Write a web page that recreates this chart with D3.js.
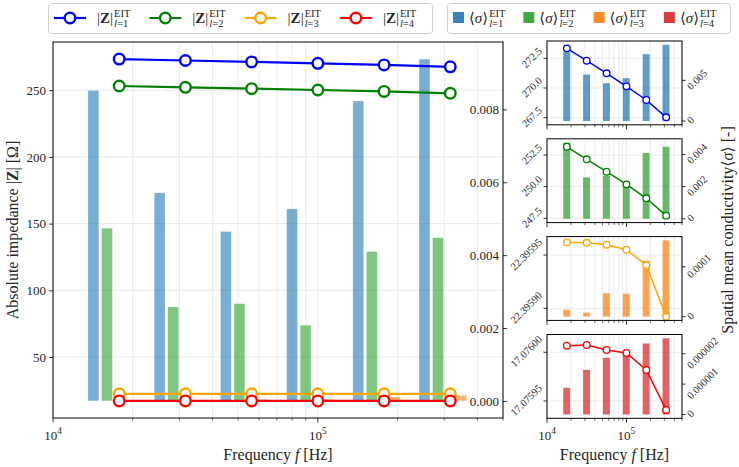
<!DOCTYPE html>
<html><head><meta charset="utf-8">
<script src="https://cdn.jsdelivr.net/npm/d3@7"></script>
<style>
body{margin:0;background:#fff}
svg{display:block}
text{font-family:"Liberation Serif","DejaVu Serif",serif;fill:#262626}
</style>
</head><body><svg id="c" width="739" height="467"></svg>
<script>
// ---------------- data ----------------
const freqs = [17783, 31623, 56234, 100000, 177828, 316228];
const zL1 = [273.34, 272.30, 271.24, 270.14, 268.99, 267.53];
const zL2 = [253.15, 252.16, 251.18, 250.18, 249.08, 247.71];
const zL3 = [22.3959619, 22.3959615, 22.3959597, 22.3959550, 22.3959406, 22.3958921];
const zL4 = [17.0760068, 17.0760075, 17.0760024, 17.0759993, 17.0759818, 17.0759408];
const sL1 = [0.00852, 0.00571, 0.00465, 0.00527, 0.00823, 0.00938];
const sL2 = [0.00474, 0.00258, 0.00267, 0.00208, 0.00410, 0.00448];
const sL3 = [0.0000139, 0.0000077, 0.000047, 0.000046, 0.000112, 0.000153];
const sL4 = [0.00000088, 0.00000147, 0.00000187, 0.00000208, 0.00000234, 0.00000251];
const layers = ["1", "2", "3", "4"];
const lineColors = ["#0000ff", "#008000", "#ffa500", "#ff0000"];
const barColors = ["#1f77b4", "#2ca02c", "#ff7f0e", "#d62728"];
const barOffsets = [0.8, 0.9, 1.1, 1.2];
const zTicksMain = [50, 100, 150, 200, 250];
const sTicksMain = [0, 0.002, 0.004, 0.006, 0.008];
const sTickLabelsMain = ["0.000", "0.002", "0.004", "0.006", "0.008"];
const xMajorTicks = [1e4, 1e5];
const xMajorExp = ["4", "5"];
const panelZTicks = [[267.5, 270.0, 272.5], [247.5, 250.0, 252.5], [22.39590, 22.39595], [17.07595, 17.07600]];
const panelZTickLabels = [["267.5", "270.0", "272.5"], ["247.5", "250.0", "252.5"], ["22.39590", "22.39595"], ["17.07595", "17.07600"]];
const panelSTicks = [[0, 0.005], [0, 0.002, 0.004], [0, 0.0001], [0, 0.000001, 0.000002]];
const panelSTickLabels = [["0", "0.005"], ["0", "0.002", "0.004"], ["0", "0.0001"], ["0", "0.000001", "0.000002"]];
const panelZDomains = [[266.90, 273.96], [247.16, 253.78], [22.3958887, 22.3959673], [17.0759322, 17.0760183]];

const zSeries = [zL1, zL2, zL3, zL4];
const sSeries = [sL1, sL2, sL3, sL4];

const svg = d3.select("#c");
const GRID = "#e3e3e3";

// ---------------- main chart ----------------
const M = {l: 53, r: 503, t: 42, b: 418};
const xMain = d3.scaleLog().domain([1e4, 5e5]).range([M.l, M.r]);
const allZ = [].concat(...zSeries);
const [zmin, zmax] = d3.extent(allZ);
const zpad = (zmax - zmin) * 0.05;
const yZ = d3.scaleLinear().domain([zmin - zpad, zmax + zpad]).range([M.b, M.t]);
const sMax = d3.max([].concat(...sSeries));
const yS = d3.scaleLinear().domain([-0.05 * sMax, 1.05 * sMax]).range([M.b, M.t]);

const gm = svg.append("g");
const xtAll = xMain.ticks();
gm.selectAll(".vg").data(xtAll).join("line")
  .attr("x1", d => xMain(d)).attr("x2", d => xMain(d)).attr("y1", M.t).attr("y2", M.b)
  .attr("stroke", GRID).attr("stroke-width", 0.8);
gm.selectAll(".hg").data(zTicksMain).join("line")
  .attr("x1", M.l).attr("x2", M.r).attr("y1", d => yZ(d)).attr("y2", d => yZ(d))
  .attr("stroke", GRID).attr("stroke-width", 0.8);

// bars
sSeries.forEach((ss, i) => {
  gm.append("g").selectAll("rect").data(ss.map((v, j) => ({v, f: freqs[j]}))).join("rect")
    .attr("x", d => xMain(d.f * barOffsets[i] * (1 - 0.0475)))
    .attr("width", d => xMain(d.f * barOffsets[i] * (1 + 0.0475)) - xMain(d.f * barOffsets[i] * (1 - 0.0475)))
    .attr("y", d => yS(d.v))
    .attr("height", d => yS(0) - yS(d.v))
    .attr("fill", barColors[i]).attr("fill-opacity", 0.6)
    .attr("stroke", "#fff").attr("stroke-opacity", 0.5).attr("stroke-width", 0.6);
});

// lines
const lineMain = d3.line().x((d, j) => xMain(freqs[j])).y(d => yZ(d));
zSeries.forEach((zs, i) => {
  gm.append("path").datum(zs).attr("d", lineMain).attr("fill", "none")
    .attr("stroke", lineColors[i]).attr("stroke-width", 2.2);
  gm.append("g").selectAll("circle").data(zs).join("circle")
    .attr("cx", (d, j) => xMain(freqs[j])).attr("cy", d => yZ(d)).attr("r", 5.3)
    .attr("fill", "#fff").attr("stroke", lineColors[i]).attr("stroke-width", 2.4);
});

// spines
gm.append("rect").attr("x", M.l).attr("y", M.t).attr("width", M.r - M.l).attr("height", M.b - M.t)
  .attr("fill", "none").attr("stroke", "#000").attr("stroke-width", 1);

// axes
function styleAxis(g) {
  g.select(".domain").remove();
  g.selectAll(".tick line").attr("stroke", "#000").attr("stroke-width", 0.8);
  g.selectAll(".tick text").style("font-size", "13px").attr("fill", "#262626");
}
const axL = svg.append("g").attr("transform", `translate(${M.l},0)`)
  .call(d3.axisLeft(yZ).tickValues(zTicksMain).tickSize(4).tickPadding(3).tickFormat(d3.format("d")));
styleAxis(axL);
const axR = svg.append("g").attr("transform", `translate(${M.r},0)`)
  .call(d3.axisRight(yS).tickValues(sTicksMain).tickSize(4).tickFormat((d, i) => sTickLabelsMain[i]));
styleAxis(axR);
axR.selectAll(".tick text").attr("text-anchor", "end").attr("x", -4);

function logXAxis(scale, y, withLabels) {
  const g = svg.append("g");
  const ticks = scale.ticks();
  g.selectAll("line").data(ticks).join("line")
    .attr("x1", d => scale(d)).attr("x2", d => scale(d)).attr("y1", y)
    .attr("y2", d => y + (xMajorTicks.includes(d) ? 4.5 : 2.5))
    .attr("stroke", "#000").attr("stroke-width", d => xMajorTicks.includes(d) ? 0.8 : 0.6);
  if (withLabels) {
    xMajorTicks.forEach((t, k) => {
      const tx = g.append("text").attr("x", scale(t)).attr("y", y + 22).attr("text-anchor", "middle").style("font-size", "13px");
      tx.append("tspan").text("10");
      tx.append("tspan").attr("dy", -6).style("font-size", "9.5px").text(xMajorExp[k]);
    });
  }
}
logXAxis(xMain, M.b, true);

// axis labels
function freqLabel(cx) {
  const t = svg.append("text").attr("x", cx).attr("y", 460).attr("text-anchor", "middle").style("font-size", "16px");
  t.append("tspan").text("Frequency ");
  t.append("tspan").style("font-style", "italic").text("f");
  t.append("tspan").text(" [Hz]");
}
freqLabel((M.l + M.r) / 2);

const yl = svg.append("text").attr("transform", `translate(18,${(M.t + M.b) / 2}) rotate(-90)`)
  .attr("text-anchor", "middle").style("font-size", "16px");
yl.append("tspan").text("Absolute impedance |");
yl.append("tspan").style("font-weight", "bold").text("Z");
yl.append("tspan").text("| [Ω]");

const yr = svg.append("text").attr("transform", `translate(733,${(M.t + M.b) / 2}) rotate(-90)`)
  .attr("text-anchor", "middle").style("font-size", "16px");
yr.append("tspan").text("Spatial mean conductivity⟨");
yr.append("tspan").style("font-style", "italic").text("σ");
yr.append("tspan").text("⟩ [-]");

// ---------------- right panels ----------------
const PX = {l: 547, r: 682};
const pTops = [41, 138.8, 236.6, 334.5];
const pH = 83.8;
const xP = d3.scaleLog().domain([1e4, 5e5]).range([PX.l, PX.r]);

function rotLeft(g, x, y, txt) {
  const t = g.append("text").style("font-size", "10.5px").attr("text-anchor", "end")
    .attr("dominant-baseline", "middle").text(txt);
  const L = t.node().getComputedTextLength();
  t.attr("transform", `translate(${x},${y - L * 0.3536}) rotate(-45)`);
}
function rotRight(g, x, y, txt) {
  const t = g.append("text").style("font-size", "10.5px").attr("text-anchor", "start")
    .attr("dominant-baseline", "middle").text(txt);
  const L = t.node().getComputedTextLength();
  t.attr("transform", `translate(${x},${y + L * 0.3536}) rotate(-45)`);
}

zSeries.forEach((zs, i) => {
  const top = pTops[i], bot = top + pH;
  const yz = d3.scaleLinear().domain(panelZDomains[i]).range([bot, top]);
  const m = d3.max(sSeries[i]);
  const ys = d3.scaleLinear().domain([-0.05 * m, 1.05 * m]).range([bot, top]);
  const g = svg.append("g");
  g.selectAll(".vg").data(xP.ticks()).join("line")
    .attr("x1", d => xP(d)).attr("x2", d => xP(d)).attr("y1", top).attr("y2", bot)
    .attr("stroke", GRID).attr("stroke-width", 0.7);
  g.selectAll(".hg").data(panelZTicks[i]).join("line")
    .attr("x1", PX.l).attr("x2", PX.r).attr("y1", d => yz(d)).attr("y2", d => yz(d))
    .attr("stroke", GRID).attr("stroke-width", 0.7);
  g.append("g").selectAll("rect").data(sSeries[i].map((v, j) => ({v, f: freqs[j]}))).join("rect")
    .attr("x", d => xP(d.f * 0.9)).attr("width", d => xP(d.f * 1.1) - xP(d.f * 0.9))
    .attr("y", d => ys(d.v)).attr("height", d => ys(0) - ys(d.v))
    .attr("fill", barColors[i]).attr("fill-opacity", 0.72);
  const ln = d3.line().x((d, j) => xP(freqs[j])).y(d => yz(d));
  g.append("path").datum(zs).attr("d", ln).attr("fill", "none").attr("stroke", lineColors[i]).attr("stroke-width", 1.5);
  g.append("g").selectAll("circle").data(zs).join("circle")
    .attr("cx", (d, j) => xP(freqs[j])).attr("cy", d => yz(d)).attr("r", 3.3)
    .attr("fill", "#fff").attr("stroke", lineColors[i]).attr("stroke-width", 1.3);
  g.append("rect").attr("x", PX.l).attr("y", top).attr("width", PX.r - PX.l).attr("height", pH)
    .attr("fill", "none").attr("stroke", "#000").attr("stroke-width", 1);
  // left ticks
  panelZTicks[i].forEach((t, k) => {
    g.append("line").attr("x1", PX.l - 3.5).attr("x2", PX.l).attr("y1", yz(t)).attr("y2", yz(t)).attr("stroke", "#000").attr("stroke-width", 0.8);
    rotLeft(g, PX.l - 6, yz(t), panelZTickLabels[i][k]);
  });
  panelSTicks[i].forEach((t, k) => {
    g.append("line").attr("x1", PX.r).attr("x2", PX.r + 3.5).attr("y1", ys(t)).attr("y2", ys(t)).attr("stroke", "#000").attr("stroke-width", 0.8);
    rotRight(g, PX.r + 7.5, ys(t), panelSTickLabels[i][k]);
  });
  logXAxis(xP, bot, i === 3);
});
freqLabel((PX.l + PX.r) / 2);

// ---------------- legends ----------------
function zLabel(g, x, y, l, fs) {
  const t = g.append("text").attr("x", x).attr("y", y).style("font-size", fs + "px");
  t.append("tspan").text("|");
  t.append("tspan").style("font-weight", "bold").text("Z");
  t.append("tspan").text("|");
  const w = t.node().getComputedTextLength();
  g.append("text").attr("x", x + w + 1).attr("y", y - 6).style("font-size", (fs * 0.7) + "px").text("EIT");
  const s = g.append("text").attr("x", x + w + 1).attr("y", y + 4).style("font-size", (fs * 0.7) + "px");
  s.append("tspan").style("font-style", "italic").text("l");
  s.append("tspan").text("=" + l);
}
function sLabel(g, x, y, l, fs) {
  const t = g.append("text").attr("x", x).attr("y", y).style("font-size", fs + "px");
  t.append("tspan").text("⟨");
  t.append("tspan").style("font-style", "italic").text("σ");
  t.append("tspan").text("⟩");
  const w = t.node().getComputedTextLength();
  g.append("text").attr("x", x + w + 1).attr("y", y - 6).style("font-size", (fs * 0.7) + "px").text("EIT");
  const s = g.append("text").attr("x", x + w + 1).attr("y", y + 4).style("font-size", (fs * 0.7) + "px");
  s.append("tspan").style("font-style", "italic").text("l");
  s.append("tspan").text("=" + l);
}

const lg1 = svg.append("g");
lg1.append("rect").attr("x", 48.5).attr("y", 3.5).attr("width", 384).attr("height", 30).attr("rx", 3)
  .attr("fill", "#fff").attr("stroke", "#d0d0d0").attr("stroke-width", 1);
layers.forEach((l, i) => {
  const x0 = 54 + i * 95.3, cy = 18;
  lg1.append("line").attr("x1", x0).attr("x2", x0 + 32).attr("y1", cy).attr("y2", cy)
    .attr("stroke", lineColors[i]).attr("stroke-width", 2.2);
  lg1.append("circle").attr("cx", x0 + 16).attr("cy", cy).attr("r", 5.3).attr("fill", "#fff")
    .attr("stroke", lineColors[i]).attr("stroke-width", 2.4);
  zLabel(lg1, x0 + 43, cy + 5, l, 15);
});

const lg2 = svg.append("g");
lg2.append("rect").attr("x", 447.5).attr("y", 3.5).attr("width", 283).attr("height", 30).attr("rx", 3)
  .attr("fill", "#fff").attr("stroke", "#d0d0d0").attr("stroke-width", 1);
layers.forEach((l, i) => {
  const x0 = 453 + i * 70.3, cy = 18;
  lg2.append("rect").attr("x", x0).attr("y", cy - 6).attr("width", 11).attr("height", 11)
    .attr("fill", barColors[i]).attr("fill-opacity", 0.9);
  sLabel(lg2, x0 + 16, cy + 5, l, 15);
});
</script>
</body></html>
